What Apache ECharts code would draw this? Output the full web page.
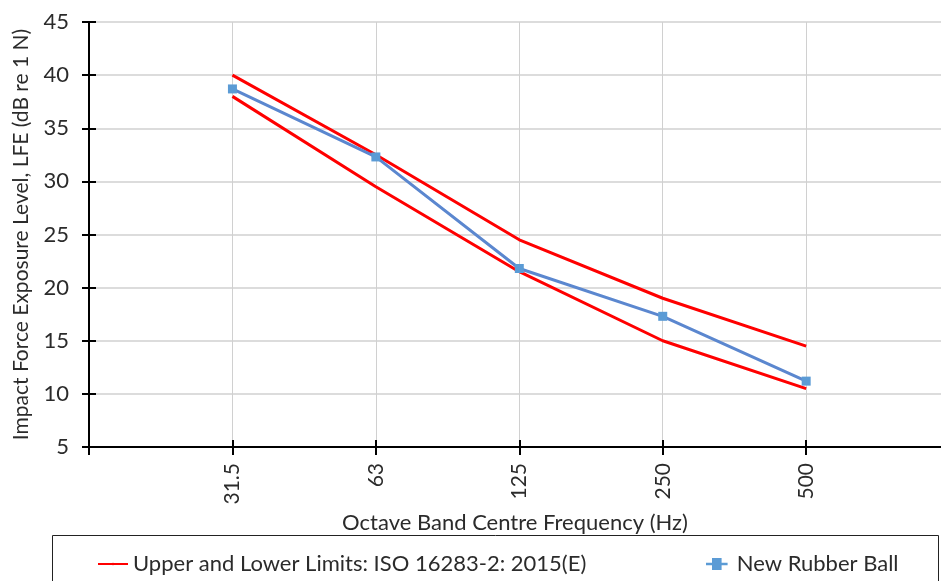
<!DOCTYPE html>
<html>
<head>
<meta charset="utf-8">
<script src="https://cdn.jsdelivr.net/npm/echarts@6/dist/echarts.min.js"></script>
<style>
  html, body { margin: 0; padding: 0; background: #fff; }
  #chart { width: 941px; height: 581px; }
</style>
</head>
<body>
<div id="chart"></div>
<script>
// octave band centre frequencies (Hz)
const bands = ["31.5", "63", "125", "250", "500"];
// ISO 16283-2 limits
const upperLimit = [40, 32.5, 24.5, 19, 14.5];
const lowerLimit = [38, 29.5, 21.5, 15, 10.5];
// measured rubber ball
const rubberBall = [38.7, 32.3, 21.8, 17.3, 11.2];

const limitName = "Upper and Lower Limits: ISO 16283-2: 2015(E)";
const ballName = "New Rubber Ball";
const font = "Lato, 'Liberation Sans', sans-serif";
const textColor = "#2b2b2b";

// band index as x, one empty slot on the left; the right slot runs off the page
const toPoints = (arr) => arr.map((v, i) => [i, v]);
const tickSlots = [-1].concat(bands.map((b, i) => i));
const bandSlots = bands.map((b, i) => i);
const xMin = -1;
const xMax = 4.94;

const chart = echarts.init(document.getElementById("chart"));
chart.setOption({
  animation: false,
  textStyle: { fontFamily: font },
  grid: { left: 89, top: 22, right: 0, bottom: 134 },
  xAxis: [
    {
      type: "value",
      min: xMin,
      max: xMax,
      interval: 1,
      name: "Octave Band Centre Frequency (Hz)",
      nameLocation: "middle",
      nameGap: 62,
      nameTextStyle: { fontSize: 22, color: textColor, fontFamily: font },
      axisLine: { show: true, onZero: false, lineStyle: { color: "#000", width: 2 } },
      axisTick: { show: true, length: 8, customValues: tickSlots, lineStyle: { color: "#000", width: 2 } },
      axisLabel: {
        rotate: 90,
        fontSize: 21,
        color: textColor,
        margin: 16,
        fontFamily: font,
        customValues: bandSlots,
        formatter: (v) => bands[Math.round(v)] || "",
      },
      splitLine: { show: true, lineStyle: { color: "#d0d0d0", width: 1 } },
    },
    {
      // inner half of crossing ticks
      type: "value",
      min: xMin,
      max: xMax,
      interval: 1,
      position: "bottom",
      axisLine: { show: false, onZero: false },
      axisTick: { show: true, inside: true, length: 7, customValues: tickSlots, lineStyle: { color: "#000", width: 2 } },
      axisLabel: { show: false },
      splitLine: { show: false },
    },
  ],
  yAxis: [
    {
      type: "value",
      min: 5,
      max: 45,
      interval: 5,
      name: "Impact Force Exposure Level, LFE (dB re 1 N)",
      nameLocation: "middle",
      nameGap: 57,
      nameTextStyle: { fontSize: 21, color: textColor, fontFamily: font },
      axisLine: { show: true, onZero: false, lineStyle: { color: "#000", width: 2 } },
      axisTick: { show: true, length: 7, lineStyle: { color: "#000", width: 2 } },
      axisLabel: { fontSize: 22, color: textColor, margin: 20, fontFamily: font },
      splitLine: { show: true, lineStyle: { color: "#d0d0d0", width: 1.5 } },
    },
    {
      type: "value",
      min: 5,
      max: 45,
      interval: 5,
      position: "left",
      axisLine: { show: false, onZero: false },
      axisTick: { show: true, inside: true, length: 7, lineStyle: { color: "#000", width: 2 } },
      axisLabel: { show: false },
      splitLine: { show: false },
    },
  ],
  legend: [
    {
      data: [limitName],
      left: 92,
      top: 548,
      itemWidth: 30,
      itemHeight: 3,
      itemGap: 10,
      textStyle: { fontSize: 22, color: textColor, fontFamily: font },
    },
    {
      data: [{ name: ballName, icon: "path://M0,4 L5,4 L5,0 L13,0 L13,4 L18,4 L18,6 L13,6 L13,10 L5,10 L5,6 L0,6 Z" }],
      left: 701,
      top: 548,
      itemWidth: 30,
      itemHeight: 12,
      textStyle: { fontSize: 22, color: textColor, fontFamily: font },
    },
  ],
  graphic: [
    {
      type: "rect",
      shape: { x: 52.5, y: 535.5, width: 886, height: 80 },
      style: { fill: "none", stroke: "#222", lineWidth: 1 },
      silent: true,
    },
  ],
  series: [
    {
      name: limitName,
      type: "line",
      data: toPoints(upperLimit),
      symbol: "none",
      lineStyle: { color: "#ff0000", width: 3 },
      itemStyle: { color: "#ff0000" },
      z: 2,
    },
    {
      name: limitName,
      type: "line",
      data: toPoints(lowerLimit),
      symbol: "none",
      lineStyle: { color: "#ff0000", width: 3 },
      itemStyle: { color: "#ff0000" },
      z: 2,
    },
    {
      name: ballName,
      type: "line",
      data: toPoints(rubberBall),
      symbol: "rect",
      symbolSize: 9,
      lineStyle: { color: "#5b87cf", width: 3 },
      itemStyle: { color: "#5b9bd5" },
      z: 3,
    },
  ],
});
</script>
</body>
</html>
